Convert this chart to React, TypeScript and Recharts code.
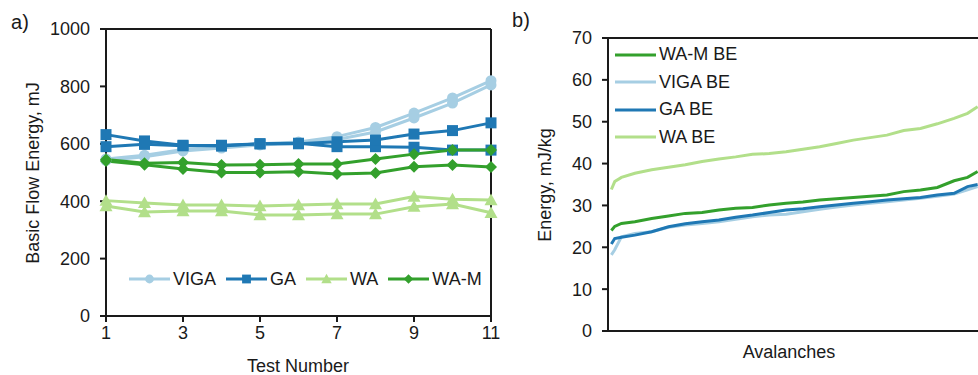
import { LineChart, Line, XAxis, YAxis, ReferenceLine } from 'recharts';

// Panel a: basic flow energy per test, two repeats per powder
const tests = [1, 2, 3, 4, 5, 6, 7, 8, 9, 10, 11];
const vigaA = [547, 560, 580, 590, 600, 606, 625, 657, 707, 760, 820];
const vigaB = [542, 555, 575, 585, 596, 602, 615, 641, 690, 742, 805];
const gaA = [632, 610, 595, 592, 600, 602, 590, 590, 588, 578, 578];
const gaB = [590, 598, 593, 595, 600, 600, 607, 613, 634, 646, 673];
const waA = [402, 394, 387, 387, 383, 387, 390, 390, 416, 407, 404];
const waB = [383, 362, 366, 366, 352, 352, 355, 355, 381, 390, 360];
const wamA = [545, 532, 535, 526, 527, 530, 530, 547, 564, 578, 578];
const wamB = [540, 527, 512, 500, 500, 503, 495, 498, 520, 526, 519];
const energyTicks = [0, 200, 400, 600, 800, 1000];
const testTicks = [1, 3, 5, 7, 9, 11];

// Panel b: sorted basic energy per avalanche
const ranks = [1, 2, 4, 8, 13, 18, 23, 28, 33, 38, 43, 48, 53, 58, 63, 68, 73, 78, 83, 88, 93, 98, 103, 107, 110];
const wamBE = [24.0, 25.0, 25.7, 26.1, 26.9, 27.5, 28.1, 28.3, 28.9, 29.3, 29.5, 30.1, 30.5, 30.8, 31.3, 31.6, 31.9, 32.2, 32.5, 33.3, 33.7, 34.3, 35.9, 36.7, 38.1];
const vigaBE = [18.2, 19.4, 22.5, 23.3, 23.7, 24.8, 25.3, 25.7, 26.1, 26.7, 27.3, 27.7, 27.9, 28.5, 29.1, 29.6, 30.1, 30.5, 30.9, 31.3, 31.7, 32.2, 32.7, 33.7, 34.5];
const gaBE = [20.8, 22.1, 22.4, 22.9, 23.7, 24.9, 25.6, 26.1, 26.5, 27.2, 27.7, 28.3, 28.9, 29.2, 29.7, 30.1, 30.5, 30.9, 31.3, 31.6, 31.9, 32.5, 32.9, 34.5, 35.0];
const waBE = [33.8, 35.7, 36.7, 37.7, 38.5, 39.1, 39.7, 40.5, 41.1, 41.6, 42.2, 42.4, 42.8, 43.4, 44.0, 44.8, 45.6, 46.2, 46.8, 47.9, 48.4, 49.5, 50.8, 52.0, 53.6];
const beTicks = [0, 10, 20, 30, 40, 50, 60, 70];

const VIGA = '#a6cee3';
const GA = '#1f78b4';
const WA = '#b2df8a';
const WAM = '#33a02c';
const INK = '#1a1a1a';
const FONT = '"Liberation Sans", Arial, sans-serif';

type Shape = 'circle' | 'square' | 'triangle' | 'diamond';

function Marker({ cx, cy, shape, color, s = 1 }: { cx: number; cy: number; shape: Shape; color: string; s?: number }) {
  if (cx == null || cy == null) return null;
  if (shape === 'circle') return <circle cx={cx} cy={cy} r={5.5 * s} fill={color} />;
  if (shape === 'square') {
    const h = 5.5 * s;
    return <rect x={cx - h} y={cy - h} width={2 * h} height={2 * h} fill={color} />;
  }
  if (shape === 'triangle') {
    const h = 6.5 * s;
    return <polygon points={`${cx},${cy - h} ${cx + h},${cy + h * 0.8} ${cx - h},${cy + h * 0.8}`} fill={color} />;
  }
  const d = 6 * s;
  return <polygon points={`${cx},${cy - d} ${cx + d},${cy} ${cx},${cy + d} ${cx - d},${cy}`} fill={color} />;
}

const dotOf = (shape: Shape, color: string) =>
  // eslint-disable-next-line @typescript-eslint/no-explicit-any
  (p: any) => <Marker key={`${shape}-${p.dataKey}-${p.index}`} cx={p.cx} cy={p.cy} shape={shape} color={color} />;

const flowData = tests.map((t, i) => ({
  test: t,
  vigaA: vigaA[i], vigaB: vigaB[i],
  gaA: gaA[i], gaB: gaB[i],
  waA: waA[i], waB: waB[i],
  wamA: wamA[i], wamB: wamB[i],
}));

const beData = ranks.map((r, i) => ({
  rank: r,
  wamBE: wamBE[i], vigaBE: vigaBE[i], gaBE: gaBE[i], waBE: waBE[i],
}));

const flowSeries: { keys: string[]; name: string; color: string; shape: Shape }[] = [
  { keys: ['waA', 'waB'], name: 'WA', color: WA, shape: 'triangle' },
  { keys: ['vigaA', 'vigaB'], name: 'VIGA', color: VIGA, shape: 'circle' },
  { keys: ['gaA', 'gaB'], name: 'GA', color: GA, shape: 'square' },
  { keys: ['wamA', 'wamB'], name: 'WA-M', color: WAM, shape: 'diamond' },
];
const flowLegend = ['VIGA', 'GA', 'WA', 'WA-M'].map((n) => flowSeries.find((s) => s.name === n)!);

const beSeries = [
  { key: 'waBE', name: 'WA BE', color: WA },
  { key: 'vigaBE', name: 'VIGA BE', color: VIGA },
  { key: 'gaBE', name: 'GA BE', color: GA },
  { key: 'wamBE', name: 'WA-M BE', color: WAM },
];
const beLegend = ['wamBE', 'vigaBE', 'gaBE', 'waBE'].map((k) => beSeries.find((s) => s.key === k)!);

const tickStyle = { fill: INK, fontSize: 18, fontFamily: FONT };
const axisStroke = { stroke: INK, strokeWidth: 2 };

function Text({ x, y, children, rotate = false, size = 18 }: { x: number; y: number; children: string; rotate?: boolean; size?: number }) {
  return (
    <div
      style={{
        position: 'absolute', left: x, top: y, fontSize: size, color: INK, whiteSpace: 'nowrap', lineHeight: 1,
        transform: `translate(-50%, -50%)${rotate ? ' rotate(-90deg)' : ''}`,
      }}
    >
      {children}
    </div>
  );
}

export default function App() {
  return (
    <div style={{ position: 'fixed', left: 0, top: 0, width: 978, height: 375, overflow: 'hidden', background: '#fff', fontFamily: FONT }}>
      {/* a) */}
      <div style={{ position: 'absolute', left: 0, top: 0 }}>
        <LineChart width={500} height={375} data={flowData} margin={{ top: 29, right: 9, bottom: 29, left: 46 }}>
          <XAxis
            dataKey="test" type="number" domain={[1, 11]} ticks={testTicks} height={30}
            tick={tickStyle} tickSize={6} tickMargin={4} axisLine={axisStroke} tickLine={axisStroke}
          />
          <YAxis
            type="number" domain={[0, 1000]} ticks={energyTicks} width={60}
            tick={tickStyle} tickSize={6} tickMargin={10} axisLine={axisStroke} tickLine={axisStroke}
          />
          <ReferenceLine y={1000} {...axisStroke} />
          <ReferenceLine x={11} {...axisStroke} />
          {flowSeries.flatMap((s) =>
            s.keys.map((k) => (
              <Line
                key={k} dataKey={k} type="linear" stroke={s.color} strokeWidth={3}
                dot={dotOf(s.shape, s.color)} activeDot={false} isAnimationActive={false}
              />
            ))
          )}
        </LineChart>
      </div>
      <div style={{ position: 'absolute', left: 129, top: 268, height: 22, display: 'flex', alignItems: 'center', fontSize: 18, color: INK }}>
        {flowLegend.map((s) => (
          <div key={s.name} style={{ display: 'flex', alignItems: 'center', marginRight: 10 }}>
            <svg width={41} height={16}>
              <line x1={0} x2={41} y1={8} y2={8} stroke={s.color} strokeWidth={3} />
              <Marker cx={20.5} cy={8} shape={s.shape} color={s.color} s={0.8} />
            </svg>
            <span style={{ marginLeft: 3 }}>{s.name}</span>
          </div>
        ))}
      </div>
      <Text x={20} y={22} size={20}>a)</Text>
      <Text x={33} y={173} rotate>Basic Flow Energy, mJ</Text>
      <Text x={298} y={366}>Test Number</Text>

      {/* b) */}
      <div style={{ position: 'absolute', left: 500, top: 0 }}>
        <LineChart width={490} height={375} data={beData} margin={{ top: 38, right: 9, bottom: 24, left: 48 }}>
          <XAxis dataKey="rank" type="number" domain={[0, 111]} height={20} tick={false} tickLine={false} axisLine={axisStroke} />
          <YAxis
            type="number" domain={[0, 70]} ticks={beTicks} width={60}
            tick={tickStyle} tickSize={6} tickMargin={10} axisLine={axisStroke} tickLine={axisStroke}
          />
          <ReferenceLine y={70} {...axisStroke} />
          {beSeries.map((s) => (
            <Line
              key={s.key} dataKey={s.key} type="linear" stroke={s.color} strokeWidth={3}
              dot={false} activeDot={false} isAnimationActive={false}
            />
          ))}
        </LineChart>
      </div>
      <div style={{ position: 'absolute', left: 615, top: 41, fontSize: 18, color: INK }}>
        {beLegend.map((s) => (
          <div key={s.key} style={{ display: 'flex', alignItems: 'center', height: 27.5 }}>
            <svg width={41} height={6}>
              <line x1={0} x2={41} y1={3} y2={3} stroke={s.color} strokeWidth={3} />
            </svg>
            <span style={{ marginLeft: 3 }}>{s.name}</span>
          </div>
        ))}
      </div>
      <Text x={521} y={20} size={20}>b)</Text>
      <Text x={545} y={185} rotate>Energy, mJ/kg</Text>
      <Text x={789} y={352}>Avalanches</Text>
    </div>
  );
}
